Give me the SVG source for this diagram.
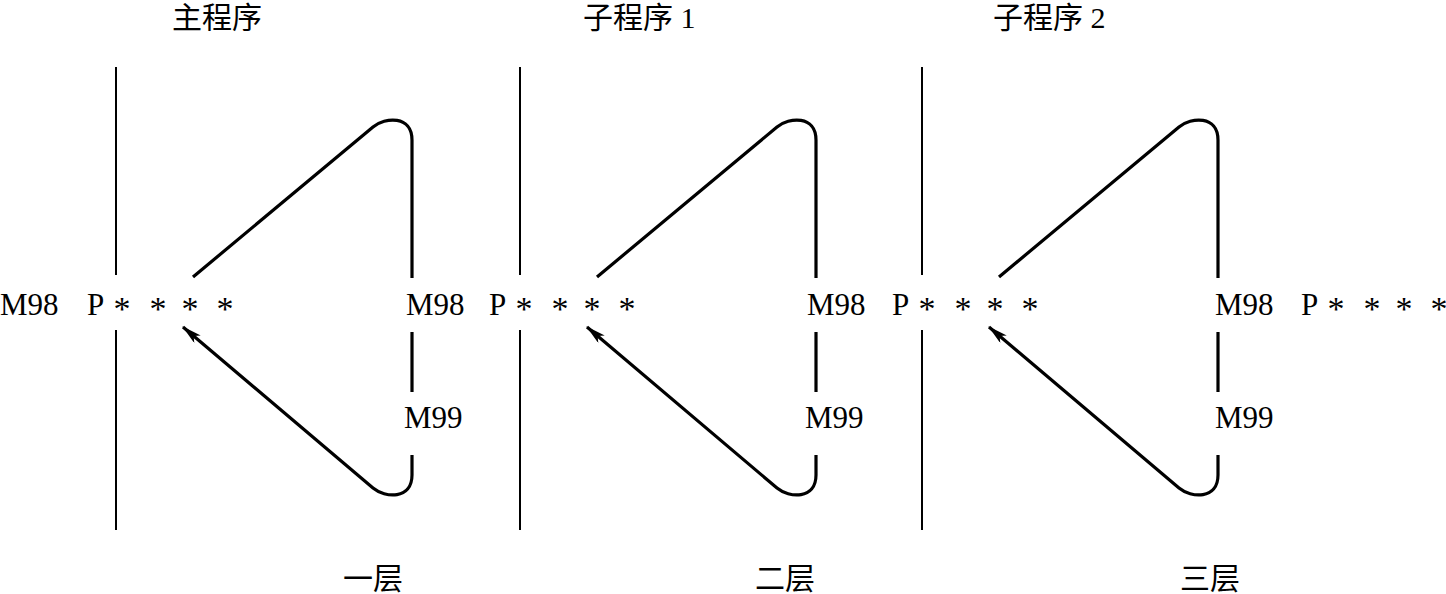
<svg xmlns="http://www.w3.org/2000/svg" width="1446" height="594" viewBox="0 0 1446 594">
<style>
.t{font-family:"Liberation Serif","Noto Sans CJK SC",serif;font-size:31px;fill:#000}
.c{font-family:"Liberation Serif","Noto Sans CJK SC",serif;font-size:30px;fill:#000}
.a{font-family:"Liberation Serif",serif;font-size:34px;fill:#000;text-anchor:middle}
.v{stroke:#000;stroke-width:2;fill:none}
.l{stroke:#000;stroke-width:3.2;fill:none}
</style>
<defs>
<marker id="arr" viewBox="0 0 20 10" refX="19" refY="5" markerWidth="20" markerHeight="10" markerUnits="userSpaceOnUse" orient="auto">
<path d="M0,0 L20,5 L0,10 L5,5 Z" fill="#000"/>
</marker>
<g id="stars">
<text class="a" x="122" y="320">*</text>
<text class="a" x="158" y="320">*</text>
<text class="a" x="190" y="320">*</text>
<text class="a" x="225" y="320">*</text>
</g>
</defs>
<g id="titles">
<text class="c" x="172" y="28">主程序</text>
<text class="c" x="583" y="28">子程序 1</text>
<text class="c" x="993" y="28">子程序 2</text>
</g>
<g id="layers">
<text class="c" x="343" y="589">一层</text>
<text class="c" x="755" y="589">二层</text>
<text class="c" x="1180" y="589">三层</text>
</g>
<g id="node-main">
<text class="t" x="0" y="315">M98</text>
<text class="t" x="87" y="315">P</text>
<use href="#stars"/>
<text class="t" x="406" y="315">M98</text>
<text class="t" x="404" y="428">M99</text>
</g>
<g id="node-sub1">
<text class="t" x="489" y="315">P</text>
<use href="#stars" transform="translate(402,0)"/>
<text class="t" x="807" y="315">M98</text>
<text class="t" x="805" y="428">M99</text>
</g>
<g id="node-sub2">
<text class="t" x="892" y="315">P</text>
<use href="#stars" transform="translate(805,0)"/>
<text class="t" x="1215" y="315">M98</text>
<text class="t" x="1215" y="428">M99</text>
</g>
<g id="node-next">
<text class="t" x="1301" y="315">P</text>
<use href="#stars" transform="translate(1214,0)"/>
</g>
<g id="connectors">
<g id="panel1">
<path class="v" d="M116,67 V275 M116,330 V530"/>
<path class="l" d="M193,277 L373,127 C385,117 412,115 412,140 V278"/>
<path class="l" d="M412,332 V392"/>
<path class="l" d="M412,455 V475 C412,500 385,498 373,488 L183,327" marker-end="url(#arr)"/>
</g>
<g id="panel2" transform="translate(404,0)">
<path class="v" d="M116,67 V275 M116,330 V530"/>
<path class="l" d="M193,277 L373,127 C385,117 412,115 412,140 V278"/>
<path class="l" d="M412,332 V392"/>
<path class="l" d="M412,455 V475 C412,500 385,498 373,488 L183,327" marker-end="url(#arr)"/>
</g>
<g id="panel3" transform="translate(806,0)">
<path class="v" d="M116,67 V275 M116,330 V530"/>
<path class="l" d="M193,277 L373,127 C385,117 412,115 412,140 V278"/>
<path class="l" d="M412,332 V392"/>
<path class="l" d="M412,455 V475 C412,500 385,498 373,488 L183,327" marker-end="url(#arr)"/>
</g>
</g>
</svg>
